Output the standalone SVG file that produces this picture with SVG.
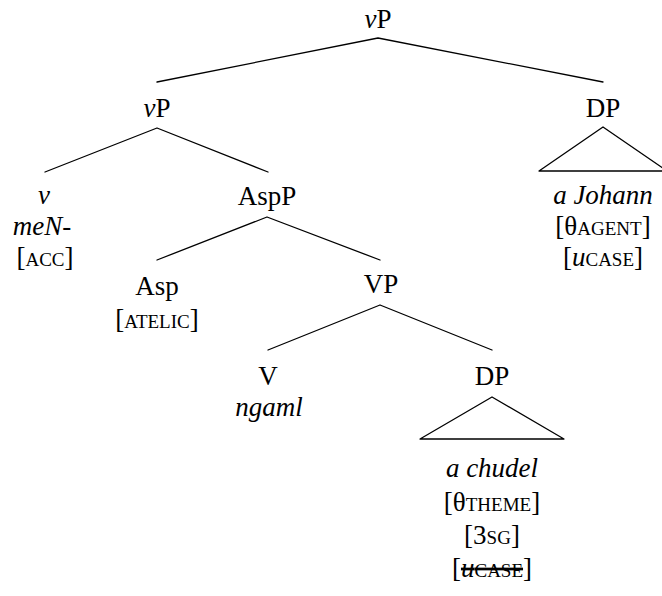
<svg xmlns="http://www.w3.org/2000/svg" width="662" height="596" viewBox="0 0 662 596">
  <style>
    text { font-family: 'Liberation Serif', serif; font-size: 27px; fill: #000; text-anchor: middle; }
    .it { font-style: italic; }
    .sc { font-variant: small-caps; }
    .edge { stroke: #000; stroke-width: 1.3; fill: none; stroke-linecap: round; stroke-linejoin: round; }
  </style>
  <rect width="662" height="596" fill="#fff"/>

  <!-- branches and roof triangles -->
  <g id="connectors">
    <polyline class="edge" points="157,82 378,38 603,82"/>
    <polyline class="edge" points="45,172 157,128 268,172"/>
    <polygon class="edge" points="539,171 603,127 667,171"/>
    <polyline class="edge" points="157,260 267,217 380,260"/>
    <polyline class="edge" points="268,350 380,305 492,350"/>
    <polygon class="edge" points="420,439 492,397 564,439"/>
  </g>

  <g id="vP-root">
    <text x="378" y="28"><tspan class="it">v</tspan>P</text>
  </g>
  <g id="vP">
    <text x="157" y="117"><tspan class="it">v</tspan>P</text>
  </g>
  <g id="DP-subject">
    <text x="603" y="117">DP</text>
    <text x="603" y="204" class="it">a Johann</text>
    <text x="603" y="235">[θ<tspan class="sc">agent</tspan>]</text>
    <text x="603" y="266">[<tspan class="it">u</tspan><tspan class="sc">case</tspan>]</text>
  </g>
  <g id="v-head">
    <text x="44" y="204" class="it">v</text>
    <text x="42" y="235" class="it">meN-</text>
    <text x="45" y="266">[<tspan class="sc">acc</tspan>]</text>
  </g>
  <g id="AspP">
    <text x="267" y="205">AspP</text>
  </g>
  <g id="Asp">
    <text x="157" y="295">Asp</text>
    <text x="157" y="328">[<tspan class="sc">atelic</tspan>]</text>
  </g>
  <g id="VP">
    <text x="381" y="293">VP</text>
  </g>
  <g id="V">
    <text x="268" y="385">V</text>
    <text x="269" y="416" class="it">ngaml</text>
  </g>
  <g id="DP-object">
    <text x="492" y="385">DP</text>
    <text x="492" y="477" class="it">a chudel</text>
    <text x="492" y="511">[θ<tspan class="sc">theme</tspan>]</text>
    <text x="492" y="544">[3<tspan class="sc">sg</tspan>]</text>
    <text x="492" y="577">[<tspan text-decoration="line-through"><tspan class="it">u</tspan><tspan class="sc">case</tspan></tspan>]</text>
  </g>
</svg>
